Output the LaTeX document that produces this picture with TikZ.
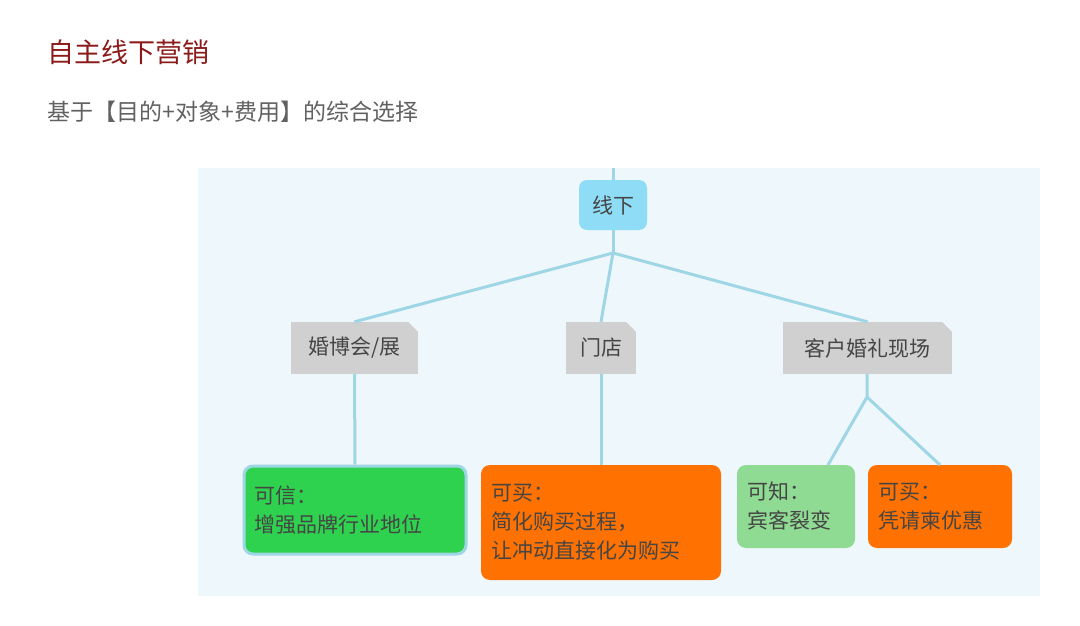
\documentclass[tikz,border=0pt]{standalone}
\usepackage{fontspec}
\setmainfont{Noto Sans CJK SC}
\usetikzlibrary{positioning}
\definecolor{panel}{HTML}{EEF7FB}
\definecolor{link}{HTML}{9FD6E6}
\definecolor{rootc}{HTML}{8EDCF5}
\definecolor{greyc}{HTML}{D0D0D0}
\definecolor{greenc}{HTML}{2ED24E}
\definecolor{lgreenc}{HTML}{8FDB93}
\definecolor{orangec}{HTML}{FF7100}
\definecolor{txt}{HTML}{454545}
\definecolor{titlec}{HTML}{8B1A1A}

\begin{document}
\begin{tikzpicture}[x=1pt,y=-1pt]
    \tikzstyle{edge}=[draw=link,line width=3pt,-]
    \tikzstyle{topic}=[rectangle,inner sep=0pt,text=txt,font=\fontsize{21}{29}\selectfont]
    \tikzstyle{sub}=[topic,fill=greyc]
    \tikzstyle{leaf}=[topic,rounded corners=9pt,align=left,text width=#1,inner xsep=10pt]

    \useasboundingbox (0,0) rectangle (1080,626);
    \fill[white] (0,0) rectangle (1080,626);
    \fill[panel] (198,168) rectangle (1040,596);

    \node[anchor=west,text=titlec,font=\fontsize{27}{32}\selectfont] (title) at (44,52) {自主线下营销};
    \node[anchor=west,text=txt!85,font=\fontsize{23}{28}\selectfont] (subtitle) at (44,112) {基于【目的+对象+费用】的综合选择};

    \coordinate (top) at (613,168);
    \node[topic,fill=rootc,rounded corners=8pt,minimum width=68pt,minimum height=50pt] (root) at (613,205) {线下};

    \node[sub,minimum width=127pt,minimum height=52pt] (expo) at (354.5,348) {婚博会/展};
    \node[sub,minimum width=70pt,minimum height=52pt] (store) at (601,348) {门店};
    \node[sub,minimum width=169pt,minimum height=52pt] (wed) at (867.5,348) {客户婚礼现场};
    % folded corners
    \foreach \n in {expo,store,wed}
        \fill[panel] (\n.north east) -- ++(-10,0) -- ++(10,10) -- cycle;

    \node[leaf=202pt,fill=greenc,draw=link,line width=3pt,minimum height=88pt] (trust) at (355,510) {可信：\\增强品牌行业地位};
    \node[leaf=220pt,fill=orangec,minimum height=115pt] (buy) at (601,522.5) {可买：\\简化购买过程，\\让冲动直接化为购买};
    \node[leaf=98pt,fill=lgreenc,minimum height=83pt] (know) at (796,506.5) {可知：\\宾客裂变};
    \node[leaf=124pt,fill=orangec,minimum height=83pt] (deal) at (940,506.5) {可买：\\凭请柬优惠};

    \coordinate (fork) at (613,253);
    \coordinate (fork2) at (867,397);

    \path[edge] (top) -- (root);
    \path[edge] (root) -- (fork);
    \path[edge] (fork) -- (expo.north);
    \path[edge] (fork) -- (store.north);
    \path[edge] (fork) -- (wed.north);
    \path[edge] (expo.south) -- (trust.north);
    \path[edge] (store) -- (buy.north);
    \path[edge] (wed) -- (fork2);
    \path[edge] (fork2) -- (828,465);
    \path[edge] (fork2) -- (940,465);
\end{tikzpicture}
\end{document}
